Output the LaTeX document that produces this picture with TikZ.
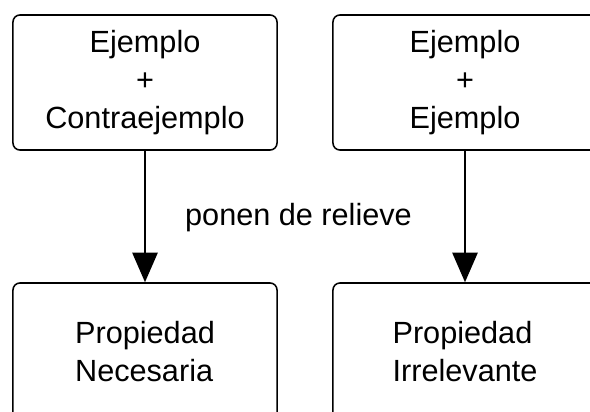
\documentclass[tikz,border=0pt]{standalone}
\usepackage{fontspec}
\setmainfont{Liberation Sans}
\usepackage{tikz}
\usetikzlibrary{arrows.meta}
\usetikzlibrary{positioning}
\tikzset{
	ejbox/.style={rectangle, draw=black, line width=1.1pt, rounded corners=5pt, minimum width=6.6cm, minimum height=3.375cm, align=center, font=\fontsize{21.8}{27}\selectfont},
	propbox/.style={ejbox, minimum height=3.45cm, align=left},
	flecha/.style = {-{Triangle[length=21pt, width=18pt]}, line width=1.1pt}
}

\begin{document}
\begin{tikzpicture}[x=0.025cm, y=-0.025cm]
		\useasboundingbox (0,0) rectangle (590,412);
		\node[ejbox] at (145,82.5) (ejcontra)    {Ejemplo\\+\\Contraejemplo};
		\node[ejbox] at (465,82.5) (ejej)    {Ejemplo\\+\\Ejemplo};
		\node[propbox] at (145,352) (necesaria)     {Propiedad\\Necesaria};
		\node[propbox] at (465,352) (irrelevante)    {Propiedad\\Irrelevante};
		\draw[flecha] (ejcontra.south) -- (necesaria.north); 
		\draw[flecha] (ejej.south) -- (irrelevante.north); 
		\node[align=center, font=\fontsize{21.8}{27}\selectfont] at (298.5,218) (relieve) {ponen de relieve};
	\end{tikzpicture}
\end{document}
